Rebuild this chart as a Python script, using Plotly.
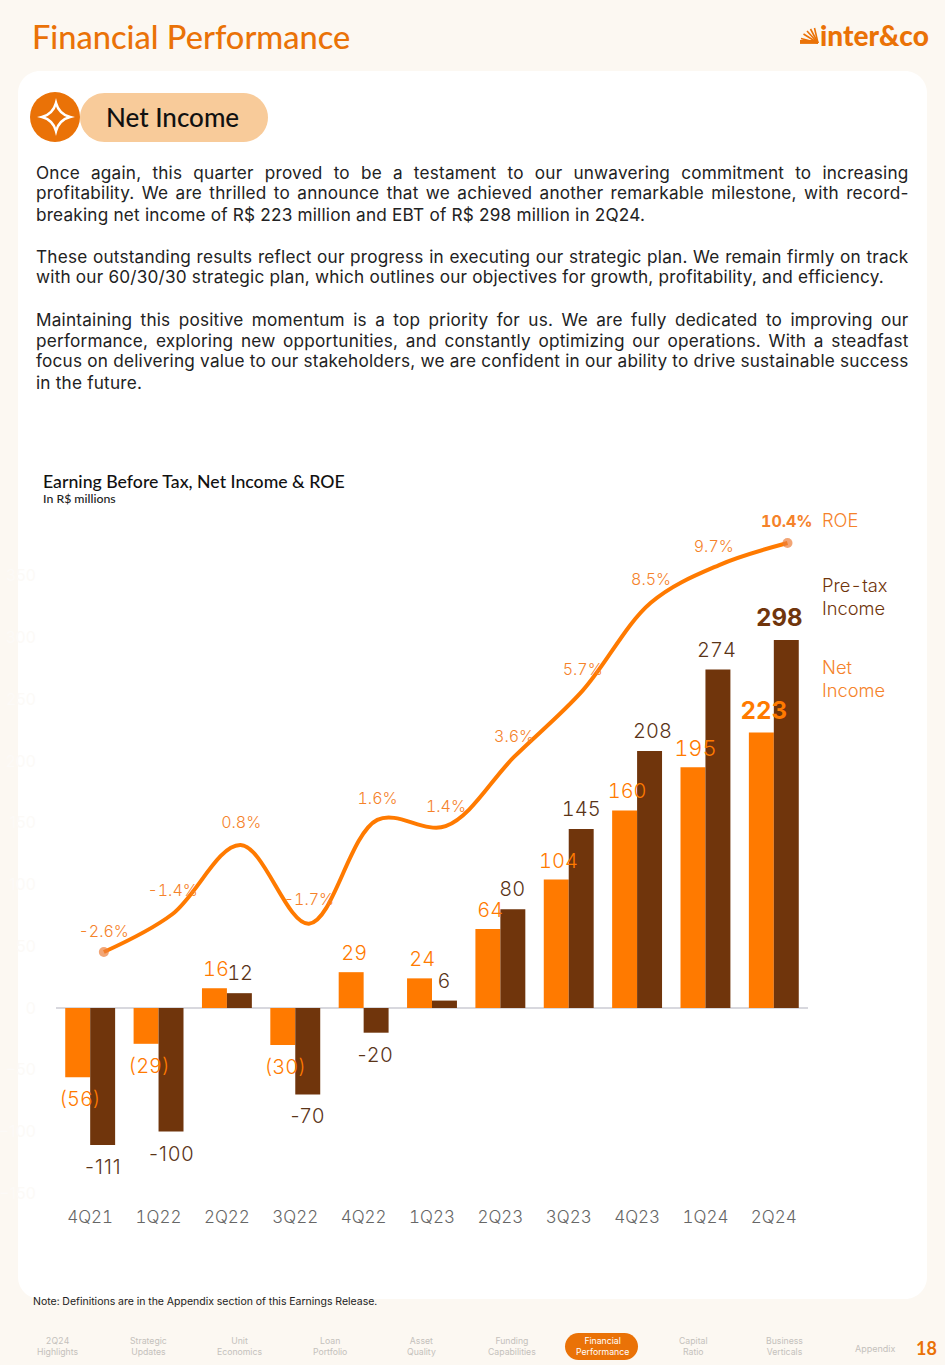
import json
import plotly.graph_objects as go

# ---------- data ----------
QUARTERS = ["4Q21", "1Q22", "2Q22", "3Q22", "4Q22", "1Q23", "2Q23", "3Q23", "4Q23", "1Q24", "2Q24"]
NET_INCOME = [-56, -29, 16, -30, 29, 24, 64, 104, 160, 195, 223]
PRE_TAX = [-111, -100, 12, -70, -20, 6, 80, 145, 208, 274, 298]
ROE = [-2.6, -1.4, 0.8, -1.7, 1.6, 1.4, 3.6, 5.7, 8.5, 9.7, 10.4]
Y_TICKS = [-150, -100, -50, 0, 50, 100, 150, 200, 250, 300, 350]

PARAGRAPHS = [
    ("Once again, this quarter proved to be a testament to our unwavering commitment to increasing", 172, True),
    ("profitability. We are thrilled to announce that we achieved another remarkable milestone, with record-", 193, True),
    ("breaking net income of R$ 223 million and EBT of R$ 298 million in 2Q24.", 214, False),
    ("These outstanding results reflect our progress in executing our strategic plan. We remain firmly on track", 256, True),
    ("with our 60/30/30 strategic plan, which outlines our objectives for growth, profitability, and efficiency.", 277, False),
    ("Maintaining this positive momentum is a top priority for us. We are fully dedicated to improving our", 319, True),
    ("performance, exploring new opportunities, and constantly optimizing our operations. With a steadfast", 340, True),
    ("focus on delivering value to our stakeholders, we are confident in our ability to drive sustainable success", 361, True),
    ("in the future.", 382, False),
]
NAV = [("2Q24<br>Highlights", 57), ("Strategic<br>Updates", 148), ("Unit<br>Economics", 239),
       ("Loan<br>Portfolio", 330), ("Asset<br>Quality", 421), ("Funding<br>Capabilities", 512),
       ("Capital<br>Ratio", 693), ("Business<br>Verticals", 784)]

# ---------- styles / geometry ----------
W, H = 945, 1365
ORANGE, BROWN = "#FF7A00", "#70350C"
DEEP = "#EA7207"
FONT = "Inter"
HEAD = "Lato"
ZERO_PX, PX_PER_UNIT = 1008, 1.235
ROE_PX0, ROE_PX_PER = 952, 31.46
TOP, BOTTOM = 503, 1205
LEFT, RIGHT = 56, 806


def X(p):
    return p / W


def Y(p):
    return 1 - p / H


shapes = []


def rect_round(x0, y0, x1, y1, r, fill):
    k = r * 0.45
    path = (f"M{X(x0+r)},{Y(y0)} L{X(x1-r)},{Y(y0)} C{X(x1-k)},{Y(y0)} {X(x1)},{Y(y0+k)} {X(x1)},{Y(y0+r)} "
            f"L{X(x1)},{Y(y1-r)} C{X(x1)},{Y(y1-k)} {X(x1-k)},{Y(y1)} {X(x1-r)},{Y(y1)} "
            f"L{X(x0+r)},{Y(y1)} C{X(x0+k)},{Y(y1)} {X(x0)},{Y(y1-k)} {X(x0)},{Y(y1-r)} "
            f"L{X(x0)},{Y(y0+r)} C{X(x0)},{Y(y0+k)} {X(x0+k)},{Y(y0)} {X(x0+r)},{Y(y0)} Z")
    shapes.append(dict(type="path", xref="paper", yref="paper", path=path, fillcolor=fill,
                       line=dict(width=0), layer="below"))


rect_round(18, 71, 927, 1299, 22, "#FFFFFF")
rect_round(80, 93, 268, 142, 24.5, "#F8CB9A")
shapes.append(dict(type="circle", xref="paper", yref="paper", x0=X(30), x1=X(80), y0=Y(142), y1=Y(92),
                   fillcolor=DEEP, line=dict(width=0), layer="below"))
rect_round(565, 1333, 638, 1360, 13.5, DEEP)

# star icon
cx, cy, r = 56, 117, 14
star = (f"M{X(cx)},{Y(cy-r)} Q{X(cx+3)},{Y(cy-3)} {X(cx+r)},{Y(cy)} "
        f"Q{X(cx+3)},{Y(cy+3)} {X(cx)},{Y(cy+r)} "
        f"Q{X(cx-3)},{Y(cy+3)} {X(cx-r)},{Y(cy)} "
        f"Q{X(cx-3)},{Y(cy-3)} {X(cx)},{Y(cy-r)} Z")
shapes.append(dict(type="path", xref="paper", yref="paper", path=star, fillcolor="rgba(0,0,0,0)",
                   line=dict(color="#FFFFFF", width=2.6)))

# logo fan
for (x0, y0) in [(800, 43), (801, 38.5), (803.5, 34), (807, 31), (810.5, 29), (814.5, 28)]:
    shapes.append(dict(type="line", xref="paper", yref="paper", x0=X(x0), y0=Y(y0), x1=X(818), y1=Y(43),
                       line=dict(color=DEEP, width=1.6)))
shapes.append(dict(type="rect", xref="paper", yref="paper", x0=X(800), y0=Y(43.5), x1=X(818), y1=Y(40),
                   fillcolor=DEEP, line=dict(width=0)))

ann = []


def label(text, px, py, size, color, family=FONT, anchor="left", weight=None):
    ann.append(dict(text=text, xref="paper", yref="paper", x=X(px), y=Y(py), xanchor=anchor, yanchor="middle",
                    align=anchor, showarrow=False, borderpad=0, borderwidth=0,
                    font=dict(family=family, size=size, color=color, weight=weight)))


# header
label("Financial Performance", 32, 36, 32.6, DEEP, HEAD, weight=500)
label("inter&amp;co", 820, 35, 28, DEEP, HEAD, weight=900)
label("Net Income", 106, 117, 26, "#111111", HEAD, weight=500)

# body text
for text, py, _ in PARAGRAPHS:
    label(text, 36, py, 17.2, "#222222")

# chart heading
label("Earning Before Tax, Net Income &amp; ROE", 43, 481, 17.7, "#111111", HEAD, weight=500)
label("In R$ millions", 43, 498, 12.3, "#222222", HEAD, weight=500)

# legend text
label("ROE", 822, 520, 18.3, "#F5822A", weight=300)
label("Pre-tax", 822, 585, 18.3, BROWN, weight=300)
label("Income", 822, 608, 18.3, BROWN, weight=300)
label("Net", 822, 667, 18.3, "#F5822A", weight=300)
label("Income", 822, 690, 18.3, "#F5822A", weight=300)

# footer
label("Note: Definitions are in the Appendix section of this Earnings Release.", 33, 1301, 10.5, "#222222")
for text, px in NAV:
    ann.append(dict(text=text, xref="paper", yref="paper", x=X(px), y=Y(1346.5), xanchor="center", yanchor="middle",
                    align="center", showarrow=False, borderpad=0, borderwidth=0,
                    font=dict(family=FONT, size=8.7, color="#C4C1BC")))
ann.append(dict(text="Financial<br>Performance", xref="paper", yref="paper", x=X(602), y=Y(1346.5), xanchor="center",
                yanchor="middle", align="center", showarrow=False, borderpad=0, borderwidth=0,
                font=dict(family=FONT, size=8.7, color="#FFFFFF")))
label("Appendix", 875, 1348, 9, "#C4C1BC", anchor="center")
label("18", 926, 1348, 18, DEEP, HEAD, anchor="center", weight=700)

# bar value labels (shift from the bar end)
NI_XSHIFT = [-10, -10, -11, -10, -10, -10, -10, -10, -10, -10, -10]
NI_SIZE = [20, 20, 20, 20, 20, 20, 20, 20, 20, 22, 24]
PRE_XSHIFT = [13, 13, 13, 13, 12, 12, 12, 12, 15, 11, 5]
for i, q in enumerate(QUARTERS):
    v = NET_INCOME[i]
    last = i == len(QUARTERS) - 1
    txt = f"({-v})" if v < 0 else str(v)
    ann.append(dict(text=txt, xref="x", yref="y", x=q, y=v, xshift=NI_XSHIFT[i],
                    yshift=(22 if last else 19) if v > 0 else -22,
                    showarrow=False, xanchor="center", yanchor="middle", borderpad=0, borderwidth=0,
                    font=dict(family=FONT, size=NI_SIZE[i], color=ORANGE, weight=700 if last else 300)))
    v = PRE_TAX[i]
    ann.append(dict(text=str(v), xref="x", yref="y", x=q, y=v, xshift=PRE_XSHIFT[i],
                    yshift=(22 if last else 20) if v > 0 else -22,
                    showarrow=False, xanchor="center", yanchor="middle", borderpad=0, borderwidth=0,
                    font=dict(family=FONT, size=24 if last else 20, color=BROWN if last else "#5A3418",
                              weight=700 if last else 300)))

# ROE labels
ROE_YSHIFT = [21, 24, 23, 25, 22, 20, 21, 22, 24, 19, 22]
ROE_XSHIFT = [0, 0, 0, 0, 0, 0, 0, 0, 0, -6, 0]
for i, q in enumerate(QUARTERS):
    last = i == len(QUARTERS) - 1
    ann.append(dict(text=f"{ROE[i]}%", xref="x2", yref="y2", x=q, y=ROE[i], xshift=ROE_XSHIFT[i], yshift=ROE_YSHIFT[i],
                    showarrow=False, xanchor="center", yanchor="middle", borderpad=0, borderwidth=0,
                    font=dict(family=FONT, size=16, color="#F5822A", weight=700 if last else 300)))

# ---------- figure ----------
fig = go.Figure()
fig.add_bar(x=QUARTERS, y=NET_INCOME, name="Net Income", marker=dict(color=ORANGE, line=dict(width=0)))
fig.add_bar(x=QUARTERS, y=PRE_TAX, name="Pre-tax Income", marker=dict(color=BROWN, line=dict(width=0)))
fig.add_scatter(x=QUARTERS, y=ROE, name="ROE", xaxis="x2", yaxis="y2", mode="lines+markers",
                line=dict(color=ORANGE, width=4, shape="spline", smoothing=1.0),
                marker=dict(size=[10] + [0] * 9 + [10], color="#EC7F3A", line=dict(width=0)))

domain_y = [1 - BOTTOM / H, 1 - TOP / H]
fig.update_layout(
    width=W, height=H, margin=dict(l=0, r=0, t=0, b=0), autosize=False,
    paper_bgcolor="#FCF8F2", plot_bgcolor="rgba(0,0,0,0)", showlegend=False,
    barmode="group", bargap=0.27, bargroupgap=0,
    shapes=shapes, annotations=ann,
    xaxis=dict(domain=[X(LEFT), X(RIGHT + 2)], type="category", categoryorder="array", categoryarray=QUARTERS,
               range=[-0.5, 10.5], showgrid=False, zeroline=False, showline=False, automargin=False,
               ticks="", tickfont=dict(family=FONT, size=17, color="#666666", weight=300), anchor="y"),
    yaxis=dict(domain=domain_y, range=[(ZERO_PX - BOTTOM) / PX_PER_UNIT, (ZERO_PX - TOP) / PX_PER_UNIT],
               tickvals=Y_TICKS, showgrid=False, zeroline=True, zerolinecolor="#D8D8DE", zerolinewidth=1.5,
               showline=False, ticks="outside", ticklen=16, tickcolor="rgba(0,0,0,0)", automargin=False,
               tickfont=dict(family=FONT, size=16, color="#FCFAF7"), anchor="x"),
    xaxis2=dict(domain=[X(LEFT), X(RIGHT + 2)], overlaying="x", type="category", categoryorder="array",
                categoryarray=QUARTERS, range=[-0.7, 10.3], visible=False, anchor="y2", automargin=False),
    yaxis2=dict(domain=domain_y, overlaying="y", side="right",
                range=[(ROE_PX0 - BOTTOM) / ROE_PX_PER - 2.6, (ROE_PX0 - TOP) / ROE_PX_PER - 2.6],
                visible=False, anchor="x2", automargin=False),
)

justified = [t for t, _, j in PARAGRAPHS if j]
body = [t for t, _, _ in PARAGRAPHS]
post = """
document.body.style.margin='0';
document.documentElement.style.overflow='hidden';
var JUST=%s, BODY=%s;
function justify(){
  document.querySelectorAll('.xtick text, .annotation-text').forEach(function(el){
    var t=el.textContent;
    if(/^-\\d+$/.test(t)){el.style.letterSpacing='1px';}
    else{el.style.fontFeatureSettings='"tnum"';}
  });
  document.querySelectorAll('.annotation-text').forEach(function(el){
    var t=el.textContent;
    if(BODY.indexOf(t)>=0){el.style.letterSpacing='0.2px';el.style.fontFeatureSettings='normal';}
    if(JUST.indexOf(t)<0)return;
    el.style.wordSpacing='0px';
    var w=el.getComputedTextLength();
    var n=t.split(' ').length-1;
    el.style.wordSpacing=((872.5-w)/n)+'px';
  });
}
justify();setTimeout(justify,200);
""" % (json.dumps(justified), json.dumps(body))
fig.write_html("out.html", post_script=post, config={"displayModeBar": False})
